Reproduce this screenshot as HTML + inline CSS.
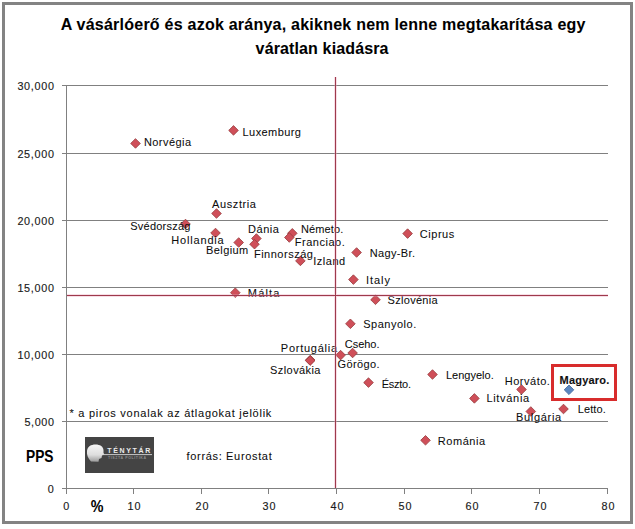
<!DOCTYPE html>
<html><head><meta charset="utf-8"><style>
html,body{margin:0;padding:0;background:#fff;}
body{width:635px;height:529px;overflow:hidden;font-family:"Liberation Sans",sans-serif;}
svg{display:block;}
</style></head><body>
<svg width="635" height="529" viewBox="0 0 635 529" font-family="Liberation Sans, sans-serif">
<rect x="0" y="0" width="635" height="529" fill="#fff"/>
<rect x="3.5" y="3.5" width="628" height="519" fill="none" stroke="#838383" stroke-width="3"/>
<path d="M62 85.5H608 M62 153.5H608 M62 220.5H608 M62 287.5H608 M62 354.5H608 M62 421.5H608 M62 488.5H608 M66.5 85V494 M66.5 488V494 M133.5 488V494 M201.5 488V494 M268.5 488V494 M336.5 488V494 M404.5 488V494 M471.5 488V494 M539.5 488V494 M607.5 488V494" stroke="#808080" stroke-width="1" fill="none"/>
<path d="M135.50 138.65L140.30 143.45L135.50 148.25L130.70 143.45Z" fill="#CF4F59" stroke="#963C3E" stroke-width="0.8"/>
<path d="M233.50 125.60L238.30 130.40L233.50 135.20L228.70 130.40Z" fill="#CF4F59" stroke="#963C3E" stroke-width="0.8"/>
<path d="M216.50 208.70L221.30 213.50L216.50 218.30L211.70 213.50Z" fill="#CF4F59" stroke="#963C3E" stroke-width="0.8"/>
<path d="M185.50 219.20L190.30 224.00L185.50 228.80L180.70 224.00Z" fill="#CF4F59" stroke="#963C3E" stroke-width="0.8"/>
<path d="M215.50 228.20L220.30 233.00L215.50 237.80L210.70 233.00Z" fill="#CF4F59" stroke="#963C3E" stroke-width="0.8"/>
<path d="M238.70 237.70L243.50 242.50L238.70 247.30L233.90 242.50Z" fill="#CF4F59" stroke="#963C3E" stroke-width="0.8"/>
<path d="M256.40 233.70L261.20 238.50L256.40 243.30L251.60 238.50Z" fill="#CF4F59" stroke="#963C3E" stroke-width="0.8"/>
<path d="M254.50 239.40L259.30 244.20L254.50 249.00L249.70 244.20Z" fill="#CF4F59" stroke="#963C3E" stroke-width="0.8"/>
<path d="M292.30 228.50L297.10 233.30L292.30 238.10L287.50 233.30Z" fill="#CF4F59" stroke="#963C3E" stroke-width="0.8"/>
<path d="M289.30 232.70L294.10 237.50L289.30 242.30L284.50 237.50Z" fill="#CF4F59" stroke="#963C3E" stroke-width="0.8"/>
<path d="M300.40 256.10L305.20 260.90L300.40 265.70L295.60 260.90Z" fill="#CF4F59" stroke="#963C3E" stroke-width="0.8"/>
<path d="M407.60 228.80L412.40 233.60L407.60 238.40L402.80 233.60Z" fill="#CF4F59" stroke="#963C3E" stroke-width="0.8"/>
<path d="M356.60 247.70L361.40 252.50L356.60 257.30L351.80 252.50Z" fill="#CF4F59" stroke="#963C3E" stroke-width="0.8"/>
<path d="M353.40 274.80L358.20 279.60L353.40 284.40L348.60 279.60Z" fill="#CF4F59" stroke="#963C3E" stroke-width="0.8"/>
<path d="M235.30 287.90L240.10 292.70L235.30 297.50L230.50 292.70Z" fill="#CF4F59" stroke="#963C3E" stroke-width="0.8"/>
<path d="M375.50 295.00L380.30 299.80L375.50 304.60L370.70 299.80Z" fill="#CF4F59" stroke="#963C3E" stroke-width="0.8"/>
<path d="M350.40 319.00L355.20 323.80L350.40 328.60L345.60 323.80Z" fill="#CF4F59" stroke="#963C3E" stroke-width="0.8"/>
<path d="M310.20 355.20L315.00 360.00L310.20 364.80L305.40 360.00Z" fill="#CF4F59" stroke="#963C3E" stroke-width="0.8"/>
<path d="M310.20 355.80L315.00 360.60L310.20 365.40L305.40 360.60Z" fill="#CF4F59" stroke="#963C3E" stroke-width="0.8"/>
<path d="M340.60 350.30L345.40 355.10L340.60 359.90L335.80 355.10Z" fill="#CF4F59" stroke="#963C3E" stroke-width="0.8"/>
<path d="M352.60 348.20L357.40 353.00L352.60 357.80L347.80 353.00Z" fill="#CF4F59" stroke="#963C3E" stroke-width="0.8"/>
<path d="M368.50 377.80L373.30 382.60L368.50 387.40L363.70 382.60Z" fill="#CF4F59" stroke="#963C3E" stroke-width="0.8"/>
<path d="M432.50 369.70L437.30 374.50L432.50 379.30L427.70 374.50Z" fill="#CF4F59" stroke="#963C3E" stroke-width="0.8"/>
<path d="M474.40 393.60L479.20 398.40L474.40 403.20L469.60 398.40Z" fill="#CF4F59" stroke="#963C3E" stroke-width="0.8"/>
<path d="M425.50 435.50L430.30 440.30L425.50 445.10L420.70 440.30Z" fill="#CF4F59" stroke="#963C3E" stroke-width="0.8"/>
<path d="M521.50 384.70L526.30 389.50L521.50 394.30L516.70 389.50Z" fill="#CF4F59" stroke="#963C3E" stroke-width="0.8"/>
<path d="M530.80 406.70L535.60 411.50L530.80 416.30L526.00 411.50Z" fill="#CF4F59" stroke="#963C3E" stroke-width="0.8"/>
<path d="M563.50 404.20L568.30 409.00L563.50 413.80L558.70 409.00Z" fill="#CF4F59" stroke="#963C3E" stroke-width="0.8"/>
<path d="M569.00 385.00L573.80 389.80L569.00 394.60L564.20 389.80Z" fill="#5A86C0" stroke="#41679A" stroke-width="0.8"/>
<text x="143.90" y="146.00" font-size="11.0" textLength="47.17" lengthAdjust="spacing" fill="#0c0c0c" stroke="#0c0c0c" stroke-width="0.06">Norvégia</text>
<text x="242.60" y="136.00" font-size="11.0" textLength="58.28" lengthAdjust="spacing" fill="#0c0c0c" stroke="#0c0c0c" stroke-width="0.06">Luxemburg</text>
<text x="212.10" y="208.00" font-size="11.0" textLength="43.87" lengthAdjust="spacing" fill="#0c0c0c" stroke="#0c0c0c" stroke-width="0.06">Ausztria</text>
<text x="130.30" y="230.00" font-size="11.0" textLength="60.11" lengthAdjust="spacing" fill="#0c0c0c" stroke="#0c0c0c" stroke-width="0.06">Svédország</text>
<text x="171.30" y="244.00" font-size="11.0" textLength="52.44" lengthAdjust="spacing" fill="#0c0c0c" stroke="#0c0c0c" stroke-width="0.06">Hollandia</text>
<text x="206.10" y="254.00" font-size="11.0" textLength="42.08" lengthAdjust="spacing" fill="#0c0c0c" stroke="#0c0c0c" stroke-width="0.06">Belgium</text>
<text x="248.00" y="233.00" font-size="11.0" textLength="30.98" lengthAdjust="spacing" fill="#0c0c0c" stroke="#0c0c0c" stroke-width="0.06">Dánia</text>
<text x="253.90" y="258.00" font-size="11.0" textLength="59.02" lengthAdjust="spacing" fill="#0c0c0c" stroke="#0c0c0c" stroke-width="0.06">Finnország</text>
<text x="300.90" y="233.00" font-size="11.0" textLength="42.49" lengthAdjust="spacing" fill="#0c0c0c" stroke="#0c0c0c" stroke-width="0.06">Németo.</text>
<text x="294.70" y="246.00" font-size="11.0" textLength="50.08" lengthAdjust="spacing" fill="#0c0c0c" stroke="#0c0c0c" stroke-width="0.06">Franciao.</text>
<text x="313.20" y="265.00" font-size="11.0" textLength="31.98" lengthAdjust="spacing" fill="#0c0c0c" stroke="#0c0c0c" stroke-width="0.06">Izland</text>
<text x="419.70" y="238.00" font-size="11.0" textLength="34.60" lengthAdjust="spacing" fill="#0c0c0c" stroke="#0c0c0c" stroke-width="0.06">Ciprus</text>
<text x="369.80" y="257.00" font-size="11.0" textLength="45.20" lengthAdjust="spacing" fill="#0c0c0c" stroke="#0c0c0c" stroke-width="0.06">Nagy-Br.</text>
<text x="365.90" y="284.00" font-size="11.0" textLength="24.09" lengthAdjust="spacing" fill="#0c0c0c" stroke="#0c0c0c" stroke-width="0.06">Italy</text>
<text x="247.80" y="297.00" font-size="11.0" textLength="31.65" lengthAdjust="spacing" fill="#0c0c0c" stroke="#0c0c0c" stroke-width="0.06">Málta</text>
<text x="387.50" y="304.00" font-size="11.0" textLength="50.16" lengthAdjust="spacing" fill="#0c0c0c" stroke="#0c0c0c" stroke-width="0.06">Szlovénia</text>
<text x="363.20" y="328.00" font-size="11.0" textLength="53.08" lengthAdjust="spacing" fill="#0c0c0c" stroke="#0c0c0c" stroke-width="0.06">Spanyolo.</text>
<text x="280.80" y="352.00" font-size="11.0" textLength="56.28" lengthAdjust="spacing" fill="#0c0c0c" stroke="#0c0c0c" stroke-width="0.06">Portugália</text>
<text x="270.10" y="374.00" font-size="11.0" textLength="50.34" lengthAdjust="spacing" fill="#0c0c0c" stroke="#0c0c0c" stroke-width="0.06">Szlovákia</text>
<text x="337.50" y="368.00" font-size="11.0" textLength="41.98" lengthAdjust="spacing" fill="#0c0c0c" stroke="#0c0c0c" stroke-width="0.06">Görögo.</text>
<text x="344.80" y="348.00" font-size="11.0" textLength="34.68" lengthAdjust="spacing" fill="#0c0c0c" stroke="#0c0c0c" stroke-width="0.06">Cseho.</text>
<text x="381.70" y="388.00" font-size="11.0" textLength="29.29" lengthAdjust="spacing" fill="#0c0c0c" stroke="#0c0c0c" stroke-width="0.06">Észto.</text>
<text x="446.00" y="379.00" font-size="11.0" textLength="47.72" lengthAdjust="spacing" fill="#0c0c0c" stroke="#0c0c0c" stroke-width="0.06">Lengyelo.</text>
<text x="486.40" y="402.00" font-size="11.0" textLength="42.77" lengthAdjust="spacing" fill="#0c0c0c" stroke="#0c0c0c" stroke-width="0.06">Litvánia</text>
<text x="437.80" y="445.00" font-size="11.0" textLength="47.27" lengthAdjust="spacing" fill="#0c0c0c" stroke="#0c0c0c" stroke-width="0.06">Románia</text>
<text x="504.80" y="385.00" font-size="11.0" textLength="45.09" lengthAdjust="spacing" fill="#0c0c0c" stroke="#0c0c0c" stroke-width="0.06">Horváto.</text>
<text x="516.00" y="421.00" font-size="11.0" textLength="45.14" lengthAdjust="spacing" fill="#0c0c0c" stroke="#0c0c0c" stroke-width="0.06">Bulgária</text>
<text x="577.70" y="413.00" font-size="11.0" textLength="28.02" lengthAdjust="spacing" fill="#0c0c0c" stroke="#0c0c0c" stroke-width="0.06">Letto.</text>
<path d="M335.5 77V488M67 295.5H608" stroke="#E8A0B8" stroke-opacity="0.35" stroke-width="3" fill="none"/>
<path d="M335.5 77V488M67 295.5H608" stroke="#9E3A4C" stroke-width="1" fill="none"/>
<rect x="552.5" y="365.5" width="63" height="34" fill="none" stroke="#D82C2C" stroke-width="3"/>
<text x="559.50" y="384.00" font-size="11.0" font-weight="bold" textLength="49.80" lengthAdjust="spacing" fill="#111" stroke="#111" stroke-width="0.1">Magyaro.</text>
<text x="60.70" y="29.70" font-size="16" font-weight="bold" textLength="524.79" lengthAdjust="spacing" fill="#000" stroke="#000" stroke-width="0.06">A vásárlóerő és azok aránya, akiknek nem lenne megtakarítása egy</text>
<text x="255.60" y="53.70" font-size="16" font-weight="bold" textLength="132.87" lengthAdjust="spacing" fill="#000" stroke="#000" stroke-width="0.06">váratlan kiadásra</text>
<text x="17.40" y="89.60" font-size="10.8" textLength="36.59" lengthAdjust="spacing" fill="#1a1a1a" stroke="#1a1a1a" stroke-width="0.15">30,000</text>
<text x="17.40" y="157.60" font-size="10.8" textLength="36.59" lengthAdjust="spacing" fill="#1a1a1a" stroke="#1a1a1a" stroke-width="0.15">25,000</text>
<text x="17.40" y="224.60" font-size="10.8" textLength="36.59" lengthAdjust="spacing" fill="#1a1a1a" stroke="#1a1a1a" stroke-width="0.15">20,000</text>
<text x="17.40" y="291.60" font-size="10.8" textLength="36.59" lengthAdjust="spacing" fill="#1a1a1a" stroke="#1a1a1a" stroke-width="0.15">15,000</text>
<text x="17.40" y="358.60" font-size="10.8" textLength="36.59" lengthAdjust="spacing" fill="#1a1a1a" stroke="#1a1a1a" stroke-width="0.15">10,000</text>
<text x="24.40" y="425.60" font-size="10.8" textLength="29.57" lengthAdjust="spacing" fill="#1a1a1a" stroke="#1a1a1a" stroke-width="0.15">5,000</text>
<text x="47.70" y="492.60" font-size="10.8" textLength="6.31" lengthAdjust="spacing" fill="#1a1a1a" stroke="#1a1a1a" stroke-width="0.15">0</text>
<text x="63.20" y="509.80" font-size="10.8" textLength="6.61" lengthAdjust="spacing" fill="#1a1a1a" stroke="#1a1a1a" stroke-width="0.15">0</text>
<text x="127.60" y="509.80" font-size="10.8" textLength="13.03" lengthAdjust="spacing" fill="#1a1a1a" stroke="#1a1a1a" stroke-width="0.15">10</text>
<text x="195.60" y="509.80" font-size="10.8" textLength="13.03" lengthAdjust="spacing" fill="#1a1a1a" stroke="#1a1a1a" stroke-width="0.15">20</text>
<text x="262.60" y="509.80" font-size="10.8" textLength="13.03" lengthAdjust="spacing" fill="#1a1a1a" stroke="#1a1a1a" stroke-width="0.15">30</text>
<text x="330.60" y="509.80" font-size="10.8" textLength="13.03" lengthAdjust="spacing" fill="#1a1a1a" stroke="#1a1a1a" stroke-width="0.15">40</text>
<text x="398.60" y="509.80" font-size="10.8" textLength="13.03" lengthAdjust="spacing" fill="#1a1a1a" stroke="#1a1a1a" stroke-width="0.15">50</text>
<text x="465.60" y="509.80" font-size="10.8" textLength="13.03" lengthAdjust="spacing" fill="#1a1a1a" stroke="#1a1a1a" stroke-width="0.15">60</text>
<text x="533.60" y="509.80" font-size="10.8" textLength="13.03" lengthAdjust="spacing" fill="#1a1a1a" stroke="#1a1a1a" stroke-width="0.15">70</text>
<text x="601.60" y="509.80" font-size="10.8" textLength="13.03" lengthAdjust="spacing" fill="#1a1a1a" stroke="#1a1a1a" stroke-width="0.15">80</text>
<text x="26.00" y="461.80" font-size="16" font-weight="bold" textLength="27.52" lengthAdjust="spacingAndGlyphs" fill="#000" stroke="#000" stroke-width="0.06">PPS</text>
<text x="90.70" y="511.50" font-size="16" font-weight="bold" textLength="12.69" lengthAdjust="spacingAndGlyphs" fill="#000" stroke="#000" stroke-width="0.06">%</text>
<text x="69.50" y="416.50" font-size="11.0" textLength="201.82" lengthAdjust="spacing" fill="#0c0c0c" stroke="#0c0c0c" stroke-width="0.06">* a piros vonalak az átlagokat jelölik</text>
<text x="186.60" y="459.70" font-size="11.0" textLength="85.11" lengthAdjust="spacing" fill="#0c0c0c" stroke="#0c0c0c" stroke-width="0.06">forrás: Eurostat</text>
<rect x="85" y="437" width="69" height="36" fill="#444444"/>
<defs><linearGradient id="hg" x1="0" y1="0" x2="0" y2="1"><stop offset="0" stop-color="#f6f6f6"/><stop offset="0.6" stop-color="#dedede"/><stop offset="1" stop-color="#9a9a9a"/></linearGradient></defs>
<path d="M91 461.5C88 458 86.5 455 87 451C87.5 446.5 91 444.5 95.5 444.5C100 444.5 103.5 446.5 103.5 450.5L103.5 453L104.5 454.5L102 455.5L101.5 458L99 459L98.5 461.8Z" fill="url(#hg)"/>
<text x="107.3" y="452.9" font-size="7" font-weight="bold" fill="#ececec" textLength="43" lengthAdjust="spacing">TÉNYTÁR</text>
<path d="M103 454.6H152" stroke="#d8d8d8" stroke-width="0.9"/>
<text x="108" y="459.2" font-size="3.6" font-weight="bold" fill="#8c8c8c" textLength="38" lengthAdjust="spacing">TISZTA POLITIKA</text>
</svg>
</body></html>
